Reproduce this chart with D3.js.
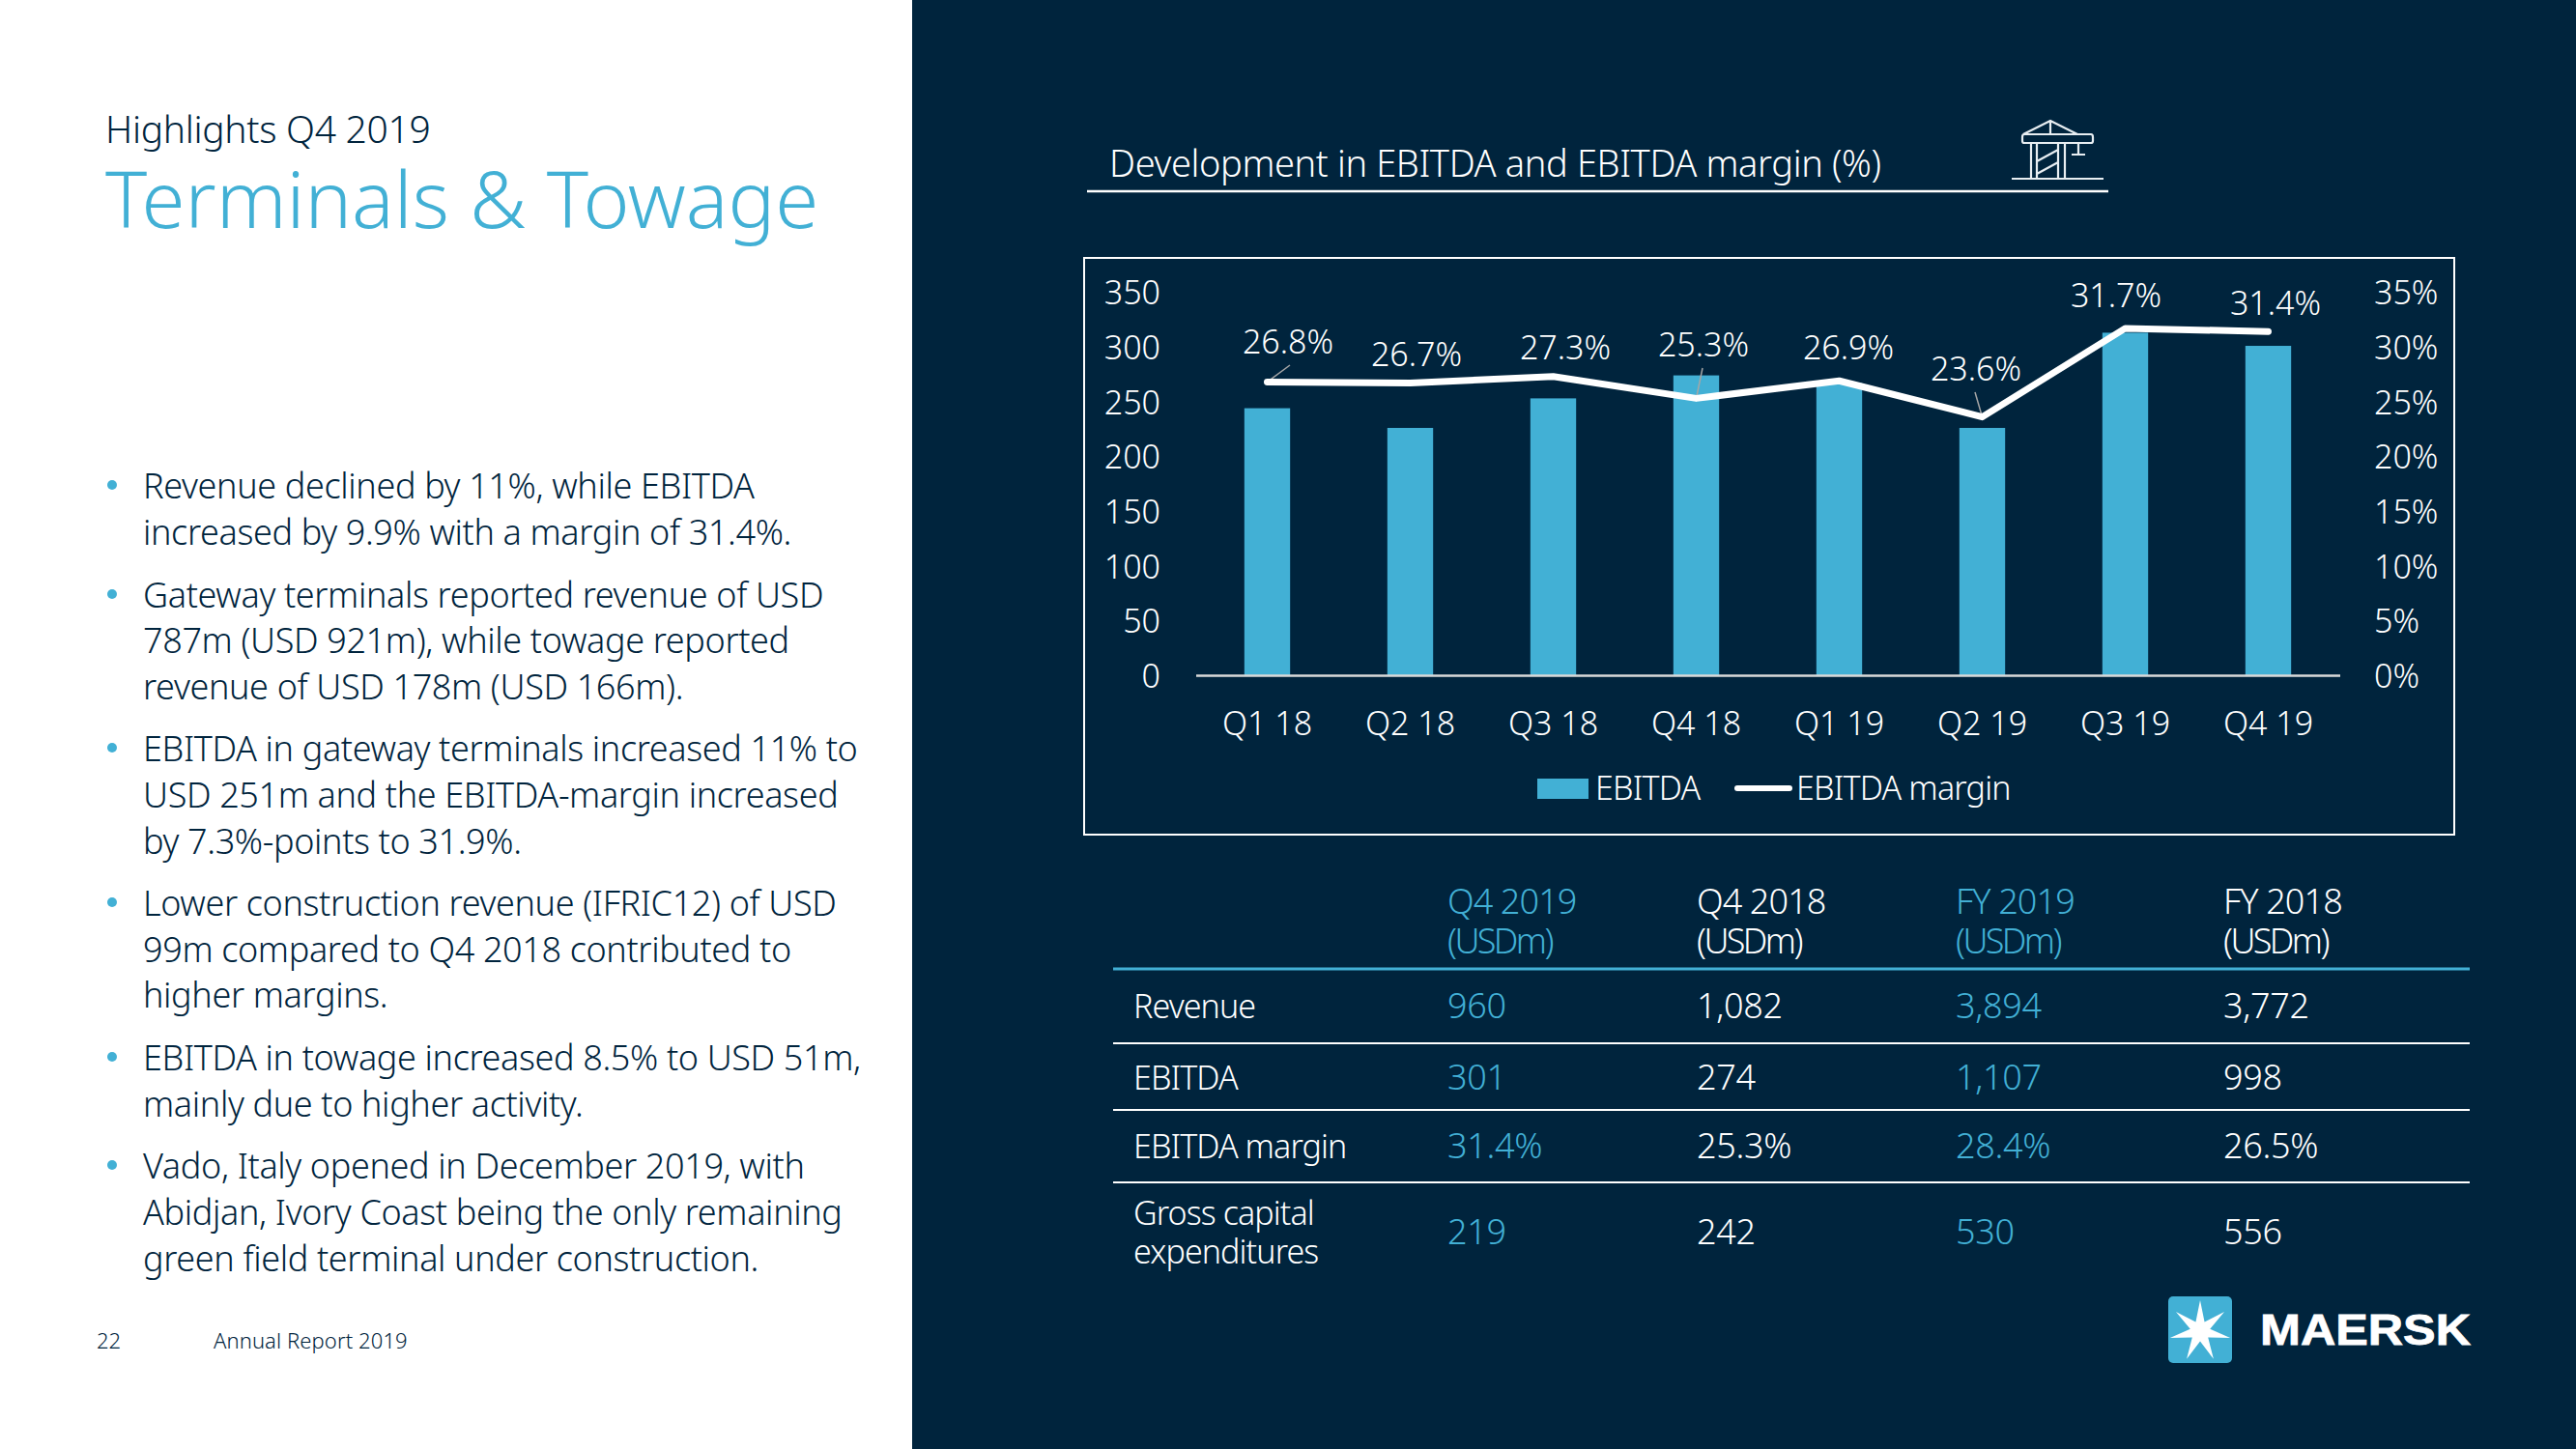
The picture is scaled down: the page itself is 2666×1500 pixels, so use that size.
<!DOCTYPE html>
<html><head><meta charset="utf-8">
<script src="https://cdn.jsdelivr.net/npm/d3@7/dist/d3.min.js"></script>
<style>
html,body{margin:0;padding:0;background:#fff;overflow:hidden}
svg{display:block}
text{font-family:"Noto Sans","Open Sans",sans-serif;font-weight:300}
</style></head><body><svg id="c" width="2666" height="1500"></svg>
<script>
// ---- data ----
const quarters = ["Q1 18","Q2 18","Q3 18","Q4 18","Q1 19","Q2 19","Q3 19","Q4 19"];
const ebitda = [244,226,253,274,267,226,313,301];
const margin = [26.8,26.7,27.3,25.3,26.9,23.6,31.7,31.4];
const leftTicks = [0,50,100,150,200,250,300,350];
const rightTicks = [0,5,10,15,20,25,30,35];
const legendNames = ["EBITDA","EBITDA margin"];
const chartTitle = "Development in EBITDA and EBITDA margin (%)";
const kicker = "Highlights Q4 2019";
const heading = "Terminals & Towage";
const bullets = [
 ["Revenue declined by 11%, while EBITDA","increased by 9.9% with a margin of 31.4%."],
 ["Gateway terminals reported revenue of USD","787m (USD 921m), while towage reported","revenue of USD 178m (USD 166m)."],
 ["EBITDA in gateway terminals increased 11% to","USD 251m and the EBITDA-margin increased","by 7.3%-points to 31.9%."],
 ["Lower construction revenue (IFRIC12) of USD","99m compared to Q4 2018 contributed to","higher margins."],
 ["EBITDA in towage increased 8.5% to USD 51m,","mainly due to higher activity."],
 ["Vado, Italy opened in December 2019, with","Abidjan, Ivory Coast being the only remaining","green field terminal under construction."]
];
const tableHead = ["Q4 2019","Q4 2018","FY 2019","FY 2018"];
const rowNames = [["Revenue"],["EBITDA"],["EBITDA margin"],["Gross capital","expenditures"]];
const rowValues = [
 ["960","1,082","3,894","3,772"],
 ["301","274","1,107","998"],
 ["31.4%","25.3%","28.4%","26.5%"],
 ["219","242","530","556"]
];
const pageNo = "22";
const footer = "Annual Report 2019";
const brand = "MAERSK";

// ---- layout (kept apart from the data) ----
const NAVY="#00243D", BLUE="#42B0D5", WHITE="#fff";
const labelPos = [[1333,366],[1466,379],[1620,372],[1763,369],[1913,372],[2045,394],[2190,318],[2355,326]];
const leaders = {0:[1335,378],3:[1762,381],5:[2044,406]};
const bulletBase = [[516,564],[629,676,724],[788,836,884],[948,996,1043],[1108,1156],[1220,1268,1316]];
const colX = [1498,1756,2024,2301];
const rowBase = [1054,1128,1199,1288];
const rowNameBase = [[1054],[1128],[1199],[1268,1308]];
const ruleY = [1080,1149,1224];

const svg = d3.select("#c");
svg.append("rect").attr("x",944).attr("width",1722).attr("height",1500).attr("fill",NAVY);

// left column
const T=(g,x,y,s,size,fill,ls)=>g.append("text").attr("x",x).attr("y",y).attr("font-size",size).attr("fill",fill).attr("letter-spacing",ls||0).text(s);
T(svg,109,148,kicker,39,NAVY,-0.3);
T(svg,109,236,heading,81.5,BLUE);
const bg = svg.append("g").selectAll("g").data(bullets).join("g");
bg.append("circle").attr("cx",116).attr("cy",(d,i)=>bulletBase[i][0]-14).attr("r",5).attr("fill",BLUE);
bg.selectAll("text").data((d,i)=>d.map((s,j)=>({s,y:bulletBase[i][j]}))).join("text")
  .attr("x",148).attr("y",d=>d.y).attr("font-size",36).attr("letter-spacing",-0.36).attr("fill",NAVY).text(d=>d.s);
T(svg,100,1396,pageNo,22,NAVY);
T(svg,221,1396,footer,22,NAVY,0.1);

// chart header
T(svg,1148,183,chartTitle,38,WHITE,-0.38);
svg.append("line").attr("x1",1125).attr("x2",2182).attr("y1",198).attr("y2",198).attr("stroke",WHITE).attr("stroke-width",2.5);
const ic = svg.append("g").attr("fill","none").attr("stroke","#e8eef2").attr("stroke-width",2.2);
ic.append("path").attr("d","M2082 185H2177M2102 185V148M2108 185V148M2130 185V148M2137 185V148M2108 167L2130 155M2108 180L2130 168M2094 139L2122 125L2150 139M2122 125V139M2095 139H2164Q2166 139 2166 142V146Q2166 148 2164 148H2095Q2093 148 2093 146V142Q2093 139 2095 139ZM2151 148V160M2144 160H2158");

// chart frame
svg.append("rect").attr("x",1122).attr("y",267).attr("width",1418).attr("height",597).attr("fill","none").attr("stroke",WHITE).attr("stroke-width",2);

const x = d3.scaleBand().domain(quarters).range([1237.5,2421.5]).paddingInner(0.68).paddingOuter(0.34);
const y = d3.scaleLinear().domain([0,350]).range([699,302.5]);
const y2 = d3.scaleLinear().domain([0,35]).range([699,302.5]);
const cx = q=>x(q)+x.bandwidth()/2;

svg.append("g").selectAll("rect").data(quarters).join("rect")
  .attr("x",q=>x(q)).attr("width",x.bandwidth())
  .attr("y",(q,i)=>y(ebitda[i])).attr("height",(q,i)=>699-y(ebitda[i])).attr("fill",BLUE);

const axStyle=(g,anchor)=>{g.select(".domain").remove();g.selectAll("text").attr("font-size",34).attr("fill",WHITE).attr("font-family",null).attr("text-anchor",anchor).attr("transform","translate(0,1.5)");};
svg.append("g").attr("transform","translate(1201,0)").call(d3.axisLeft(y).tickValues(leftTicks).tickSize(0).tickPadding(0)).call(g=>axStyle(g,"end"));
svg.append("g").attr("transform","translate(2457,0)").call(d3.axisRight(y2).tickValues(rightTicks).tickFormat(d=>d+"%").tickSize(0).tickPadding(0)).call(g=>axStyle(g,"start"));
const xa = svg.append("g").attr("transform","translate(0,699)").call(d3.axisBottom(x).tickSize(0).tickPadding(37.5));
xa.select(".domain").attr("stroke","#d9d9d9").attr("stroke-width",2.5);
xa.selectAll("text").attr("font-size",34).attr("fill",WHITE).attr("font-family",null);

// leader lines
svg.append("g").selectAll("line").data(Object.keys(leaders).map(Number)).join("line")
  .attr("x1",i=>cx(quarters[i])).attr("y1",i=>y2(margin[i]))
  .attr("x2",i=>leaders[i][0]).attr("y2",i=>leaders[i][1]).attr("stroke","#a6a6a6").attr("stroke-width",1.5);

// margin line
const line = d3.line().x((d,i)=>cx(quarters[i])).y(d=>y2(d));
svg.append("path").attr("d",line(margin)).attr("fill","none").attr("stroke",WHITE).attr("stroke-width",7).attr("stroke-linecap","round").attr("stroke-linejoin","round");

svg.append("g").selectAll("text").data(margin).join("text")
  .attr("x",(d,i)=>labelPos[i][0]).attr("y",(d,i)=>labelPos[i][1]).attr("text-anchor","middle")
  .attr("font-size",34).attr("fill",WHITE).text(d=>d.toFixed(1)+"%");

// legend
svg.append("rect").attr("x",1591).attr("y",806).attr("width",53).attr("height",21).attr("fill",BLUE);
T(svg,1651,828,legendNames[0],34,WHITE,-0.8);
svg.append("line").attr("x1",1798).attr("x2",1852).attr("y1",816).attr("y2",816).attr("stroke",WHITE).attr("stroke-width",6).attr("stroke-linecap","round");
T(svg,1859,828,legendNames[1],34,WHITE,-0.8);

// table
const colColor=i=>i%2===0?BLUE:WHITE;
const hd = svg.append("g").selectAll("g").data(tableHead).join("g");
hd.append("text").attr("x",(d,i)=>colX[i]).attr("y",946).attr("font-size",36).attr("font-weight",400).attr("letter-spacing",-0.9).attr("fill",(d,i)=>colColor(i)).text(d=>d);
hd.append("text").attr("x",(d,i)=>colX[i]).attr("y",987).attr("font-size",36).attr("font-weight",400).attr("letter-spacing",-2.6).attr("fill",(d,i)=>colColor(i)).text("(USDm)");
svg.append("line").attr("x1",1152).attr("x2",2556).attr("y1",1003).attr("y2",1003).attr("stroke",BLUE).attr("stroke-width",3);
svg.append("g").selectAll("line").data(ruleY).join("line").attr("x1",1152).attr("x2",2556).attr("y1",d=>d).attr("y2",d=>d).attr("stroke",WHITE).attr("stroke-width",2);
const rows = svg.append("g").selectAll("g").data(rowValues).join("g");
rows.selectAll("text.v").data((d,i)=>d.map((s,j)=>({s,j,i}))).join("text").attr("class","v")
  .attr("x",d=>colX[d.j]).attr("y",d=>rowBase[d.i]).attr("font-size",36).attr("letter-spacing",-0.3).attr("fill",d=>colColor(d.j)).text(d=>d.s);
svg.append("g").selectAll("g").data(rowNames).join("g").each(function(d,i){
  d3.select(this).selectAll("text").data(d).join("text").attr("x",1173).attr("y",(s,j)=>rowNameBase[i][j]).attr("font-size",34).attr("letter-spacing",-0.9).attr("fill",WHITE).text(s=>s);
});

// logo
svg.append("rect").attr("x",2244).attr("y",1342).attr("width",66).attr("height",69).attr("rx",5).attr("fill","#42B0D5");
const star=[];for(let k=0;k<14;k++){const a=-Math.PI/2+k*Math.PI/7,r=k%2?10.5:32;star.push([2277+r*Math.cos(a),1378+r*Math.sin(a)]);}
svg.append("polygon").attr("points",star.map(p=>p.join(",")).join(" ")).attr("fill",WHITE);
svg.append("text").attr("x",2339).attr("y",1392).attr("font-size",44).attr("textLength",218).attr("lengthAdjust","spacingAndGlyphs").attr("fill",WHITE).attr("stroke",WHITE).attr("stroke-width",0.8).style("font-family","Liberation Sans").style("font-weight",700).text(brand);
</script></body></html>
